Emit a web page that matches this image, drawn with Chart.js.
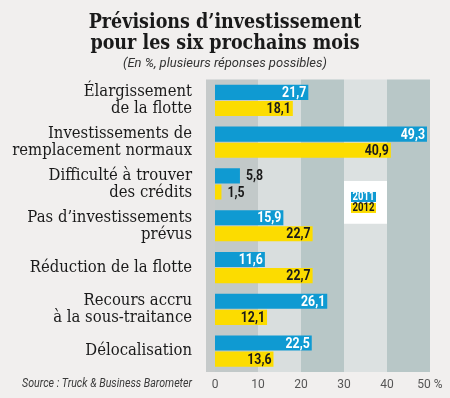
<!DOCTYPE html>
<html>
<head>
<meta charset="utf-8">
<script src="https://cdn.jsdelivr.net/npm/chart.js@4"></script>
<style>
  html, body { margin: 0; padding: 0; background: #f1efee; }
</style>
</head>
<body>
<canvas id="chart" width="450" height="398"></canvas>
<script>
// catégories et valeurs (en %)
const categories = [
  ["Élargissement", "de la flotte"],
  ["Investissements de", "remplacement normaux"],
  ["Difficulté à trouver", "des crédits"],
  ["Pas d’investissements", "prévus"],
  ["Réduction de la flotte"],
  ["Recours accru", "à la sous-traitance"],
  ["Délocalisation"]
];
const values2011 = [21.7, 49.3, 5.8, 15.9, 11.6, 26.1, 22.5];
const values2012 = [18.1, 40.9, 1.5, 22.7, 22.7, 12.1, 13.6];
const xTicks = [0, 10, 20, 30, 40, 50];
const seriesLabels = ["2011", "2012"];

const BLUE = "#0f9ad2";
const YELLOW = "#fcdc00";
const narrow = "'Liberation Sans Narrow', 'Roboto', sans-serif";

// bandes de fond derrière les barres
const bandsPlugin = {
  id: "bands",
  beforeDraw(chart) {
    const { ctx, chartArea, scales } = chart;
    const x = scales.x;
    ctx.save();
    ctx.fillStyle = "#f1efee";
    ctx.fillRect(0, 0, chart.width, chart.height);
    // petite bande à gauche du zéro
    ctx.fillStyle = "#c6caca";
    ctx.fillRect(chartArea.left - 9, chartArea.top, 9, chartArea.bottom - chartArea.top);
    const bandColors = ["#c2c9c9", "#d9dede", "#b8c7c7", "#dce1e1", "#b8c7c7"];
    for (let i = 0; i < xTicks.length - 1; i++) {
      const x0 = x.getPixelForValue(xTicks[i]);
      const x1 = x.getPixelForValue(xTicks[i + 1]);
      ctx.fillStyle = bandColors[i];
      ctx.fillRect(x0, chartArea.top, x1 - x0, chartArea.bottom - chartArea.top);
    }
    ctx.restore();
  }
};

// texte un peu condensé
function narrowText(ctx, txt, x, y, k) {
  const w = ctx.measureText(txt).width;
  ctx.fillText(txt, x, y, w * k);
}

// étiquettes de valeurs + catégories + légende + source
const labelsPlugin = {
  id: "valueLabels",
  afterDatasetsDraw(chart) {
    const { ctx, scales, chartArea } = chart;
    const x = scales.x, y = scales.y;
    ctx.save();
    ctx.font = "bold 14px " + narrow;
    ctx.textBaseline = "middle";
    chart.data.datasets.forEach((ds, di) => {
      const meta = chart.getDatasetMeta(di);
      meta.data.forEach((bar, i) => {
        const v = ds.data[i];
        const txt = v.toFixed(1).replace(".", ",");
        if (v < 8) {
          ctx.textAlign = "left";
          ctx.fillStyle = "#1a1a1a";
          narrowText(ctx, txt, bar.x + 6, bar.y + 1, 0.88);
        } else {
          ctx.textAlign = "right";
          ctx.fillStyle = di === 0 ? "#ffffff" : "#1a1a1a";
          narrowText(ctx, txt, bar.x - 2, bar.y + 1, 0.88);
        }
      });
    });

    // catégories (serif, légèrement condensé)
    ctx.font = "16.5px 'DejaVu Serif', serif";
    ctx.fillStyle = "#1a1a1a";
    ctx.textAlign = "right";
    categories.forEach((lines, i) => {
      const cy = y.getPixelForValue(i);
      lines.forEach((line, j) => {
        const ly = cy + (j - (lines.length - 1) / 2) * 17;
        narrowText(ctx, line, chartArea.left - 23, ly, 0.9);
      });
    });

    // légende
    const lx0 = x.getPixelForValue(30), lx1 = x.getPixelForValue(40);
    const ly0 = y.getPixelForValue(2) - 3, ly1 = y.getPixelForValue(3) - 2;
    ctx.fillStyle = "#ffffff";
    ctx.fillRect(lx0, ly0, lx1 - lx0, ly1 - ly0);
    const colors = [BLUE, YELLOW];
    ctx.font = "bold 12px " + narrow;
    ctx.textAlign = "center";
    seriesLabels.forEach((lab, k) => {
      const by = ly0 + 11 + k * 11;
      ctx.fillStyle = colors[k];
      ctx.fillRect(lx0 + 7, by, 25, 10);
      ctx.fillStyle = k === 0 ? "#ffffff" : "#1a1a1a";
      ctx.fillText(lab, lx0 + 19.5, by + 5.5, 22);
    });

    // source
    ctx.font = "italic 12px " + narrow;
    ctx.textAlign = "right";
    ctx.fillStyle = "#3a3a3a";
    ctx.fillText("Source : Truck & Business Barometer", 192, chartArea.bottom + 12, 170);
    ctx.restore();
  }
};

new Chart(document.getElementById("chart"), {
  type: "bar",
  data: {
    labels: categories,
    datasets: [
      { label: seriesLabels[0], data: values2011, backgroundColor: BLUE },
      { label: seriesLabels[1], data: values2012, backgroundColor: YELLOW }
    ]
  },
  options: {
    indexAxis: "y",
    responsive: false,
    animation: false,
    devicePixelRatio: 1,
    categoryPercentage: 0.77,
    barPercentage: 0.94,
    layout: { padding: { left: 20, right: 20, top: 0, bottom: 4 } },
    scales: {
      x: {
        min: 0,
        max: 50,
        grid: { display: false, drawTicks: false },
        border: { display: false },
        afterFit(scale) { scale.height = 22; },
        ticks: {
          stepSize: 10,
          padding: 6,
          maxRotation: 0,
          color: "#555555",
          font: { family: narrow, size: 12 },
          callback: v => (v === 50 ? "50 %" : String(v))
        }
      },
      y: {
        grid: { display: false, drawTicks: false },
        border: { display: false },
        ticks: { display: false },
        afterFit(scale) {
          scale.width = 195;
          scale.paddingTop = 0;
          scale.paddingBottom = 0;
        }
      }
    },
    plugins: {
      legend: { display: false },
      tooltip: { enabled: false },
      title: {
        display: true,
        text: ["Prévisions d’investissement", "pour les six prochains mois"],
        color: "#1a1a1a",
        font: { family: "'DejaVu Serif Condensed', 'DejaVu Serif', serif", size: 19.5, weight: "bold", lineHeight: 1.1 },
        padding: { top: 12, bottom: 0 }
      },
      subtitle: {
        display: true,
        text: "(En %, plusieurs réponses possibles)",
        color: "#333333",
        font: { family: narrow, size: 13, style: "italic", lineHeight: 1.2 },
        padding: { top: 1, bottom: 8 }
      }
    }
  },
  plugins: [bandsPlugin, labelsPlugin]
});
</script>
</body>
</html>
